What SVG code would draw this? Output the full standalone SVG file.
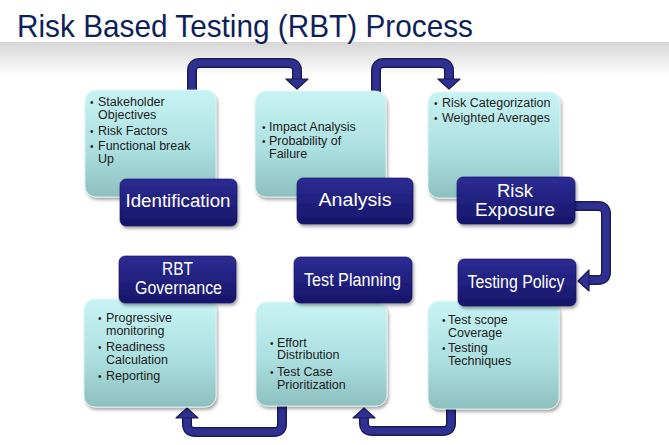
<svg xmlns="http://www.w3.org/2000/svg" width="669" height="445" viewBox="0 0 669 445">
<defs>
<linearGradient id="band" x1="0" y1="0" x2="0" y2="1">
<stop offset="0" stop-color="#d6d6d6"/>
<stop offset="1" stop-color="#ffffff"/>
</linearGradient>
<linearGradient id="boxG" x1="0" y1="0" x2="0" y2="1">
<stop offset="0" stop-color="#c8f3f4"/>
<stop offset="0.55" stop-color="#acdfe0"/>
<stop offset="1" stop-color="#8dbfbf"/>
</linearGradient>
<linearGradient id="labG" x1="0" y1="0" x2="0" y2="1">
<stop offset="0" stop-color="#2c2c94"/>
<stop offset="1" stop-color="#16166a"/>
</linearGradient>
<filter id="sh" x="-10%" y="-10%" width="130%" height="130%">
<feDropShadow dx="1.5" dy="2.5" stdDeviation="1.8" flood-color="#000" flood-opacity="0.35"/>
</filter>
</defs>
<style>
.box{fill:url(#boxG);stroke:#e4f7f7;stroke-width:0.8;filter:url(#sh)}
.lab{fill:url(#labG);stroke:#10105a;stroke-width:0.6;filter:url(#sh)}
.t{font-family:"Liberation Sans",Arial,sans-serif;font-size:12.5px;fill:#1c1c1c}
.b{font-family:"Liberation Sans",Arial,sans-serif;font-size:10px;fill:#1c1c1c}
.lt{font-family:"Liberation Sans",Arial,sans-serif;font-size:18px;fill:#ffffff;text-anchor:middle}
.ao{fill:none;stroke:#1a1a55;stroke-width:10}
.ai{fill:none;stroke:#2e3192;stroke-width:7}
.ah{fill:#2e3192;stroke:#1a1a55;stroke-width:1.2;stroke-linejoin:round}
</style>
<rect x="0" y="0" width="669" height="445" fill="#ffffff"/>
<rect x="0" y="42" width="669" height="34" fill="url(#band)"/>
<text x="17" y="37" font-family="'Liberation Sans',Arial,sans-serif" font-size="32" fill="#0e1f5b" textLength="456" lengthAdjust="spacingAndGlyphs">Risk Based Testing (RBT) Process</text>

<g id="connectors">
<path class="ao" d="M192 92 V71 Q192 63 200 63 H289 Q297 63 297 71 V80"/>
<path class="ai" d="M192 92 V71 Q192 63 200 63 H289 Q297 63 297 71 V81"/>
<polygon class="ah" points="286,79 308,79 297,89"/>
<path class="ao" d="M376 92 V71 Q376 63 384 63 H441 Q449 63 449 71 V80"/>
<path class="ai" d="M376 92 V71 Q376 63 384 63 H441 Q449 63 449 71 V81"/>
<polygon class="ah" points="438,79 460,79 449,89"/>
<path class="ao" d="M574 206 H598 Q606 206 606 214 V272 Q606 280 598 280 H588"/>
<path class="ai" d="M574 206 H598 Q606 206 606 214 V272 Q606 280 598 280 H587"/>
<polygon class="ah" points="589,270 589,291 578,281"/>
<path class="ao" d="M451 405 V423 Q451 431 443 431 H372 Q364 431 364 423 V417"/>
<path class="ai" d="M451 405 V423 Q451 431 443 431 H372 Q364 431 364 423 V416"/>
<polygon class="ah" points="353,418 375,418 364,408"/>
<path class="ao" d="M282 402 V424 Q282 432 274 432 H195 Q187 432 187 424 V417"/>
<path class="ai" d="M282 402 V424 Q282 432 274 432 H195 Q187 432 187 424 V416"/>
<polygon class="ah" points="176,418 198,418 187,408"/>
</g>

<g id="identification">
<rect class="box" x="85" y="90" width="131" height="107" rx="11"/>
<text class="b" x="90" y="106">•</text><text class="t" x="98" y="106">Stakeholder</text>
<text class="t" x="98" y="118.5">Objectives</text>
<text class="b" x="90" y="134.5">•</text><text class="t" x="98" y="134.5">Risk Factors</text>
<text class="b" x="90" y="150">•</text><text class="t" x="98" y="150">Functional break</text>
<text class="t" x="98" y="163">Up</text>
<rect class="lab" x="120" y="179" width="117" height="47" rx="6"/>
<text class="lt" x="178" y="207" textLength="105" lengthAdjust="spacingAndGlyphs">Identification</text>
</g>

<g id="analysis">
<rect class="box" x="255" y="91" width="131" height="106" rx="11"/>
<text class="b" x="262" y="130.5">•</text><text class="t" x="269" y="130.5">Impact Analysis</text>
<text class="b" x="262" y="144.5">•</text><text class="t" x="269" y="144.5">Probability of</text>
<text class="t" x="269" y="157.5">Failure</text>
<rect class="lab" x="297" y="178" width="116" height="46" rx="6"/>
<text class="lt" x="355" y="206" textLength="73" lengthAdjust="spacingAndGlyphs">Analysis</text>
</g>

<g id="risk-exposure">
<rect class="box" x="428" y="92" width="132" height="106" rx="11"/>
<text class="b" x="434" y="107">•</text><text class="t" x="442" y="107">Risk Categorization</text>
<text class="b" x="434" y="122">•</text><text class="t" x="442" y="122">Weighted Averages</text>
<rect class="lab" x="457" y="177" width="118" height="47" rx="6"/>
<text class="lt" x="515" y="197" textLength="36" lengthAdjust="spacingAndGlyphs">Risk</text>
<text class="lt" x="515" y="215.5" textLength="80" lengthAdjust="spacingAndGlyphs">Exposure</text>
</g>

<g id="testing-policy">
<rect class="box" x="428" y="301" width="131" height="108" rx="11"/>
<text class="b" x="442" y="324">•</text><text class="t" x="448" y="324">Test scope</text>
<text class="t" x="448" y="336.5">Coverage</text>
<text class="b" x="442" y="352">•</text><text class="t" x="448" y="352">Testing</text>
<text class="t" x="448" y="365">Techniques</text>
<rect class="lab" x="458" y="259" width="118" height="47" rx="6"/>
<text class="lt" x="516" y="288" textLength="97" lengthAdjust="spacingAndGlyphs">Testing Policy</text>
</g>

<g id="test-planning">
<rect class="box" x="256" y="302" width="131" height="104" rx="11"/>
<text class="b" x="270" y="346.5">•</text><text class="t" x="277" y="346.5">Effort</text>
<text class="t" x="277" y="359">Distribution</text>
<text class="b" x="270" y="375.5">•</text><text class="t" x="277" y="375.5">Test Case</text>
<text class="t" x="277" y="388.5">Prioritization</text>
<rect class="lab" x="294" y="257" width="118" height="46" rx="6"/>
<text class="lt" x="352.5" y="286" textLength="97" lengthAdjust="spacingAndGlyphs">Test Planning</text>
</g>

<g id="rbt-governance">
<rect class="box" x="84" y="299" width="132" height="108" rx="11"/>
<text class="b" x="98" y="322">•</text><text class="t" x="106" y="322">Progressive</text>
<text class="t" x="106" y="334.5">monitoring</text>
<text class="b" x="98" y="351">•</text><text class="t" x="106" y="351">Readiness</text>
<text class="t" x="106" y="363.5">Calculation</text>
<text class="b" x="98" y="380">•</text><text class="t" x="106" y="380">Reporting</text>
<rect class="lab" x="119" y="256" width="117" height="47" rx="6"/>
<text class="lt" x="177.5" y="275" font-size="17" textLength="31" lengthAdjust="spacingAndGlyphs">RBT</text>
<text class="lt" x="178.5" y="294" font-size="17" textLength="87" lengthAdjust="spacingAndGlyphs">Governance</text>
</g>
</svg>
